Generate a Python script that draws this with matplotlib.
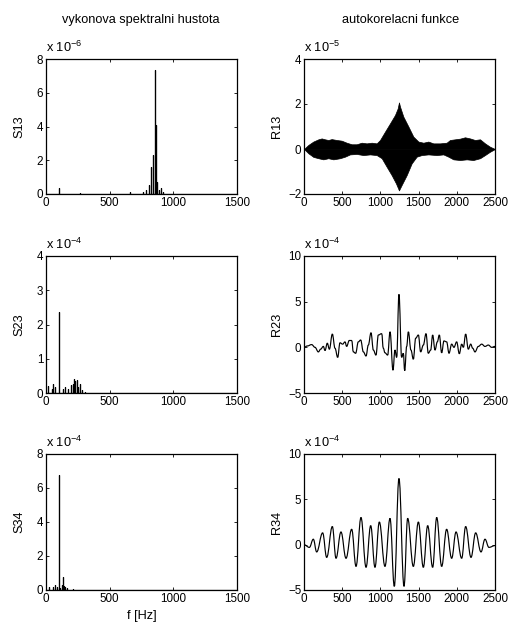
import numpy as np
import matplotlib
matplotlib.use("Agg")
import matplotlib.pyplot as plt
from matplotlib.path import Path
from matplotlib.patches import PathPatch

plt.rcParams["font.family"] = ["Liberation Sans", "DejaVu Sans"]
plt.rcParams["mathtext.fontset"] = "custom"
plt.rcParams["mathtext.rm"] = "Liberation Sans"
plt.rcParams["mathtext.it"] = "Liberation Sans"
plt.rcParams["mathtext.default"] = "regular"

# ---- power spectral density peaks (frequency [Hz], height in units of the axis exponent) ----
s13_f = [99, 266, 658, 763, 789, 810, 828, 841, 854, 867, 875, 888, 906, 919]
s13_v = [0.34, 0.08, 0.1, 0.14, 0.24, 0.53, 1.62, 2.3, 7.35, 4.1, 0.73, 0.24, 0.35, 0.14]

s23_f = [18, 44, 57, 70, 99, 136, 149, 175, 193, 209, 219, 230, 240, 253, 266, 279, 305]
s23_v = [0.2, 0.13, 0.27, 0.18, 2.37, 0.13, 0.18, 0.13, 0.22, 0.27, 0.42, 0.35, 0.37, 0.18,
         0.25, 0.08, 0.03]

s34_f = [26, 57, 70, 84, 99, 110, 123, 131, 141, 151, 162, 214]
s34_v = [0.16, 0.2, 0.3, 0.2, 6.78, 0.1, 0.3, 0.79, 0.26, 0.2, 0.1, 0.06]

# ---- correlation functions (lag in samples) ----
# R13 is a dense oscillation, kept as its upper / lower envelope
r13_up_lag = [0, 57, 122, 188, 231, 275, 318, 362, 428, 493, 558, 624, 689, 755, 820, 886,
              951, 995, 1060, 1126, 1191, 1226, 1243, 1257, 1300, 1366, 1431, 1497, 1562,
              1627, 1693, 1780, 1867, 1911, 1976, 2042, 2107, 2173, 2238, 2304, 2369, 2435, 2500]
r13_up = [0, 0.18, 0.33, 0.43, 0.47, 0.43, 0.4, 0.44, 0.4, 0.37, 0.28, 0.21, 0.21, 0.28,
          0.25, 0.28, 0.25, 0.4, 0.77, 1.14, 1.51, 1.8, 2.07, 1.88, 1.44, 1.0, 0.55, 0.33,
          0.28, 0.33, 0.25, 0.25, 0.28, 0.4, 0.43, 0.46, 0.52, 0.47, 0.4, 0.43, 0.25, 0.1, 0]
r13_lo_lag = [0, 57, 122, 188, 253, 318, 384, 471, 537, 602, 689, 777, 864, 951, 1017, 1082,
              1147, 1204, 1243, 1278, 1344, 1409, 1475, 1540, 1627, 1737, 1824, 1889, 1955,
              2042, 2129, 2216, 2304, 2369, 2435, 2500]
r13_lo = [0, -0.19, -0.35, -0.41, -0.46, -0.41, -0.46, -0.41, -0.34, -0.24, -0.22, -0.27,
          -0.24, -0.27, -0.41, -0.79, -1.16, -1.53, -1.84, -1.6, -1.16, -0.64, -0.34, -0.27,
          -0.24, -0.27, -0.24, -0.34, -0.46, -0.49, -0.46, -0.49, -0.41, -0.27, -0.12, 0]

r23_lag = [0, 44, 100, 144, 188, 218, 253, 275, 305, 332, 371, 406, 441, 471, 506, 537, 558,
           593, 624, 646, 676, 711, 742, 777, 812, 842, 877, 908, 942, 973, 1017, 1038, 1060,
           1095, 1126, 1165, 1190, 1213, 1243, 1278, 1300, 1318, 1344, 1366, 1400,
           1431, 1462, 1497, 1527, 1562, 1597, 1627, 1658, 1684, 1715, 1745, 1771, 1802, 1832,
           1867, 1898, 1933, 1963, 1998, 2033, 2064, 2086, 2116, 2151, 2182, 2208, 2238, 2282,
           2326, 2369, 2413, 2456, 2500]
r23 = [0, 0.15, 0.3, 0, -0.5, -0.2, 0.1, -0.35, 0.45, -0.2, 1.45, -0.1, -1.1, 0.5, 0.35, 0.6,
       0.1, 0.75, 0.75, -0.5, -0.65, 0.6, 0.8, -0.5, -0.95, 0.25, 1.6, -0.3, -0.85, 1.35, 1.5,
       -0.1, -0.6, -0.85, 1.7, -2.5, -0.3, -1.1, 5.8, -1.1, -0.65, -2.55, 0.1, 1.7,
       -0.3, -1.3, 1.0, 1.35, -0.5, 0.25, 1.5, -0.65, -0.3, 1.35, -0.3, 0.6, 1.35, -0.6, 0.7,
       0.6, -0.65, 0.35, 0, 0.6, -0.7, 0.35, 0, 1.45, -0.2, 0.35, -0.1, -0.5, 0.1, 0.35, 0.1,
       0.25, 0, 0.1]

r34_lag = [0, 70, 122, 166, 244, 297, 371, 419, 484, 550, 624, 681, 746, 812, 873, 929, 986,
           1060, 1126, 1182, 1243, 1309, 1357, 1431, 1497, 1562, 1619, 1684, 1737, 1802, 1867,
           1933, 1990, 2064, 2116, 2186, 2247, 2317, 2369, 2421, 2500]
r34 = [0, -0.3, 0.6, -0.8, 1.3, -1.4, 2.0, -1.5, 1.4, -1.5, 1.7, -2.4, 3.0, -2.5, 2.1, -2.5,
       2.5, -2.4, 2.9, -4.6, 7.3, -4.6, 2.9, -2.4, 2.5, -2.5, 2.1, -2.5, 3.0, -2.4, 1.7, -1.5,
       1.4, -1.5, 2.0, -1.4, 1.3, -0.8, 0.6, -0.3, -0.1]

W, H = 512, 625
FS = 8.4      # tick labels
FS_LAB = 9.2  # titles and axis labels
LW = 0.85


def px_axes(fig, x0, y0, x1, y1):
    return fig.add_axes([x0 / W, 1 - y1 / H, (x1 - x0) / W, (y1 - y0) / H])


def style(ax, xmax, xstep, ylim, ystep, ylabel, exp):
    ax.set_xlim(0, xmax)
    ax.set_ylim(*ylim)
    ax.set_xticks(np.arange(0, xmax + 1, xstep))
    ax.set_yticks(np.arange(ylim[0], ylim[1] + 0.001, ystep))
    ax.tick_params(direction="in", top=True, right=True, length=2.2, width=0.6,
                   labelsize=FS, pad=2)
    for s in ax.spines.values():
        s.set_linewidth(0.9)
    ax.set_ylabel(ylabel, fontsize=FS_LAB)
    ax.yaxis.set_label_coords(-0.11, 0.5)
    ax.text(0.0, 1.03, "x 10$^{%d}$" % exp, transform=ax.transAxes,
            ha="left", va="bottom", fontsize=FS_LAB)


def spectrum(ax, f, v, fmax=1500):
    # spikes joined along the zero baseline
    f = np.asarray(f, float)
    v = np.asarray(v, float)
    x = np.concatenate([[0], np.repeat(f, 3), [fmax]])
    y = np.concatenate([[0], np.column_stack([np.zeros_like(v), v, np.zeros_like(v)]).ravel(), [0]])
    ax.plot(x, y, color="k", lw=LW)


def smooth_curve(ax, x, y):
    # cubic segments with flat tangents at each sample (the samples are the extrema)
    verts = [(x[0], y[0])]
    codes = [Path.MOVETO]
    for i in range(1, len(x)):
        d = (x[i] - x[i - 1]) * 0.4
        verts += [(x[i - 1] + d, y[i - 1]), (x[i] - d, y[i]), (x[i], y[i])]
        codes += [Path.CURVE4] * 3
    ax.add_patch(PathPatch(Path(verts, codes), fill=False, edgecolor="k", lw=LW))


fig = plt.figure(figsize=(W / 100, H / 100), dpi=100)

rows = [(59, 194), (256, 393), (454, 590)]
left = (46, 237)
right = (304, 495)

ax = px_axes(fig, left[0], rows[0][0], left[1], rows[0][1])
spectrum(ax, s13_f, s13_v)
style(ax, 1500, 500, (0, 8), 2, "S13", -6)

ax = px_axes(fig, right[0], rows[0][0], right[1], rows[0][1])
ax.fill_between(r13_up_lag, r13_up, 0, color="k", lw=0.5)
ax.fill_between(r13_lo_lag, r13_lo, 0, color="k", lw=0.5)
style(ax, 2500, 500, (-2, 4), 2, "R13", -5)

ax = px_axes(fig, left[0], rows[1][0], left[1], rows[1][1])
spectrum(ax, s23_f, s23_v)
style(ax, 1500, 500, (0, 4), 1, "S23", -4)

ax = px_axes(fig, right[0], rows[1][0], right[1], rows[1][1])
smooth_curve(ax, r23_lag, r23)
style(ax, 2500, 500, (-5, 10), 5, "R23", -4)

ax = px_axes(fig, left[0], rows[2][0], left[1], rows[2][1])
spectrum(ax, s34_f, s34_v)
style(ax, 1500, 500, (0, 8), 2, "S34", -4)
ax.set_xlabel("f [Hz]", fontsize=FS_LAB, labelpad=4)

ax = px_axes(fig, right[0], rows[2][0], right[1], rows[2][1])
smooth_curve(ax, r34_lag, r34)
style(ax, 2500, 500, (-5, 10), 5, "R34", -4)

fig.text(141 / W, 1 - 20 / H, "vykonova spektralni hustota", ha="center", va="center", fontsize=FS_LAB)
fig.text(401 / W, 1 - 20 / H, "autokorelacni funkce", ha="center", va="center", fontsize=FS_LAB)

fig.savefig("out.png", dpi=100)
